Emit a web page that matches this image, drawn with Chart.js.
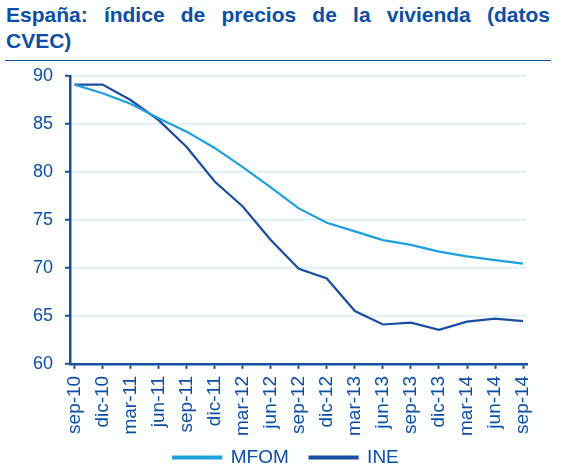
<!DOCTYPE html>
<html>
<head>
<meta charset="utf-8">
<script src="https://cdn.jsdelivr.net/npm/chart.js@4"></script>
<style>
  body { margin: 0; background: #fdfefe; }
  #wrap { position: relative; width: 563px; height: 476px; }
  .titulo {
    position: absolute; left: 6px; width: 544px;
    font: bold 21px "Liberation Sans", Arial, sans-serif;
    line-height: 26px; color: #0d4ea6; white-space: nowrap;
  }
  #t1 { top: 2px; text-align: justify; text-align-last: justify; white-space: normal; }
  #t2 { top: 28px; }
  #linea { position: absolute; left: 5px; top: 60px; width: 546px; height: 0; border-top: 1.5px solid #0d4ea6; }
  #grafica { position: absolute; left: 0; top: 0; }
</style>
</head>
<body>
<div id="wrap">
  <div class="titulo" id="t1">España: índice de precios de la vivienda (datos</div>
  <div class="titulo" id="t2">CVEC)</div>
  <div id="linea"></div>
  <canvas id="grafica" width="563" height="476"></canvas>
</div>
<script>
// Trimestres
const trimestres = ['sep-10', 'dic-10', 'mar-11', 'jun-11', 'sep-11', 'dic-11', 'mar-12', 'jun-12',
  'sep-12', 'dic-12', 'mar-13', 'jun-13', 'sep-13', 'dic-13', 'mar-14', 'jun-14', 'sep-14'];

// Series
const mfom = [89.1, 88.2, 87.1, 85.6, 84.2, 82.5, 80.5, 78.4, 76.2, 74.7, 73.8, 72.9, 72.4, 71.7, 71.2, 70.8, 70.45];
const ine = [89.1, 89.1, 87.5, 85.4, 82.6, 79.0, 76.4, 72.9, 69.9, 68.9, 65.5, 64.1, 64.3, 63.55, 64.4, 64.7, 64.45];

// Eje Y
const yMin = 60, yMax = 90, yPaso = 5;

const azulOscuro = '#1b4ea2';
const azulClaro = '#1d9fe0';
const fuente = '"Liberation Sans", Arial, sans-serif';

const puntos = serie => serie.map((v, i) => ({ x: i, y: v }));

// la leyenda va un poco mas a la derecha que el area del grafico
const moverLeyenda = {
  id: 'moverLeyenda',
  afterLayout(chart) {
    chart.legend.left += 12;
    chart.legend.right += 12;
  }
};

const ctx = document.getElementById('grafica').getContext('2d');

new Chart(ctx, {
  type: 'line',
  data: {
    datasets: [{
      label: 'MFOM',
      data: puntos(mfom),
      borderColor: azulClaro,
      backgroundColor: azulClaro,
      borderWidth: 2.2,
      pointRadius: 0,
      tension: 0
    }, {
      label: 'INE',
      data: puntos(ine),
      borderColor: azulOscuro,
      backgroundColor: azulOscuro,
      borderWidth: 2.2,
      pointRadius: 0,
      tension: 0
    }]
  },
  options: {
    responsive: false,
    animation: false,
    layout: { padding: { top: 76, left: 21, right: 36, bottom: -1 } },
    plugins: {
      tooltip: { enabled: false },
      legend: {
        position: 'bottom',
        labels: {
          boxWidth: 48,
          boxHeight: 2,
          padding: 5,
          color: '#0d4ea6',
          font: { family: fuente, size: 19 },
          generateLabels: chart => {
            const items = Chart.defaults.plugins.legend.labels.generateLabels(chart);
            // separacion entre las dos entradas
            items[0].text = items[0].text + '   ';
            return items;
          }
        }
      }
    },
    scales: {
      x: {
        type: 'linear',
        min: -0.16,
        max: 16.14,
        afterBuildTicks: s => { s.ticks = trimestres.map((_, i) => ({ value: i })); },
        ticks: {
          autoSkip: false,
          minRotation: 90,
          maxRotation: 90,
          padding: 7,
          color: '#0d4ea6',
          font: { family: fuente, size: 19 },
          callback: v => trimestres[v]
        },
        grid: { drawOnChartArea: false, tickLength: 5, tickColor: azulOscuro, tickWidth: 2 },
        border: { color: azulOscuro, width: 2.5 }
      },
      y: {
        min: yMin,
        max: yMax,
        ticks: {
          stepSize: yPaso,
          padding: 12,
          color: '#0d4ea6',
          font: { family: fuente, size: 18 }
        },
        grid: { color: '#dcedf9', lineWidth: 1.5, tickLength: 5, tickColor: azulOscuro, tickWidth: 2 },
        border: { color: azulOscuro, width: 2.5 }
      }
    }
  },
  plugins: [moverLeyenda]
});
</script>
</body>
</html>
